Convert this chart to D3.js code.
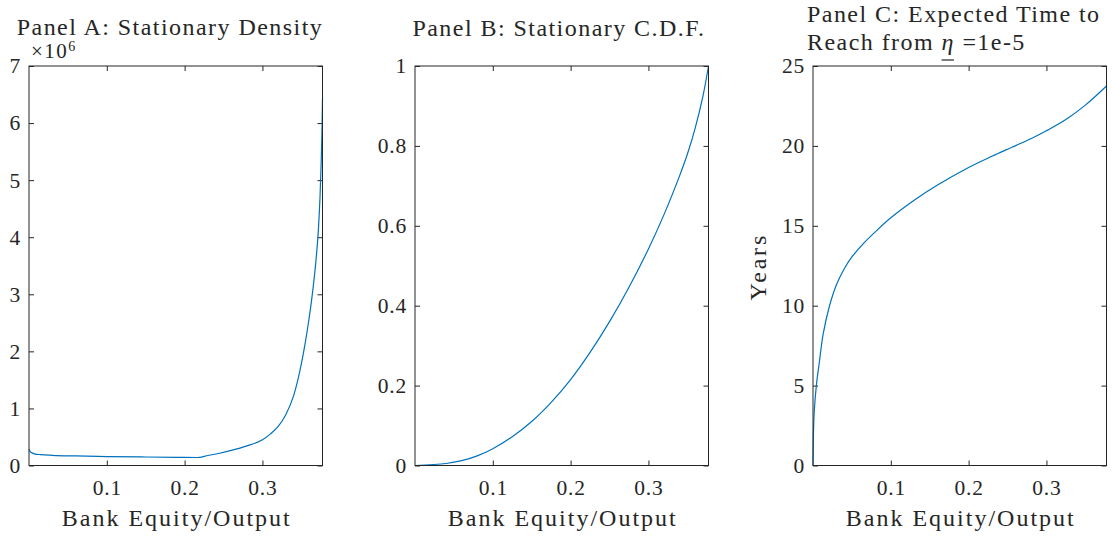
<!DOCTYPE html>
<html>
<head>
<meta charset="utf-8">
<script src="https://cdn.jsdelivr.net/npm/d3@7"></script>
<style>
	body { margin: 0; background: #fff; }
	svg { display: block; }
	text { font-family: "Liberation Serif", "Times New Roman", serif; fill: #262626; }
</style>
</head>
<body>
<svg></svg>
<script>
const svgWidth = 1112;
const svgHeight = 536;

// shared x range (bank equity / output)
const xDomain = [0.00001, 0.3772];
const xTicks = [0.1, 0.2, 0.3];

// Panel A: stationary density, in units of 1e6
const densityX = [0.00001, 0.001, 0.003, 0.007, 0.015, 0.03, 0.06, 0.1, 0.15, 0.19, 0.216,
	0.23, 0.245, 0.26, 0.28, 0.3, 0.31, 0.32, 0.33, 0.34, 0.345, 0.35, 0.355,
	0.36, 0.365, 0.369, 0.372, 0.374, 0.3755, 0.3765, 0.3772];
const densityY = [0.286, 0.255, 0.228, 0.205, 0.19, 0.179, 0.167, 0.157, 0.149, 0.144, 0.14,
	0.175, 0.215, 0.265, 0.345, 0.45, 0.55, 0.68, 0.89, 1.22, 1.47, 1.78, 2.15,
	2.58, 3.1, 3.62, 4.15, 4.7, 5.3, 5.85, 6.43];
const densityTicks = [0, 1, 2, 3, 4, 5, 6, 7];

// Panel B: stationary CDF
const cdfX = [0.00001, 0.04, 0.06, 0.08, 0.1, 0.125, 0.15, 0.175, 0.2, 0.225,
	0.25, 0.275, 0.3, 0.32, 0.34, 0.35, 0.36, 0.37, 0.3772];
const cdfY = [0, 0.005, 0.012, 0.024, 0.042, 0.072, 0.11, 0.158, 0.215, 0.283,
	0.36, 0.446, 0.542, 0.628, 0.725, 0.779, 0.844, 0.924, 1.0];
const cdfTicks = [0, 0.2, 0.4, 0.6, 0.8, 1];

// Panel C: expected time (years) to reach from eta = 1e-5
const timeX = [0.00001, 0.0005, 0.0015, 0.0043, 0.008, 0.013, 0.021, 0.03, 0.04, 0.05,
	0.065, 0.08, 0.1, 0.13, 0.16, 0.2, 0.23, 0.255, 0.28, 0.3, 0.325, 0.35, 0.3772];
const timeY = [0, 1.8, 3.3, 5.0, 6.4, 8.2, 9.95, 11.3, 12.3, 13.05,
	13.9, 14.62, 15.5, 16.6, 17.55, 18.65, 19.35, 19.9, 20.45, 20.95, 21.65, 22.55, 23.75];
const timeTicks = [0, 5, 10, 15, 20, 25];

const axisColor = "#262626";
const lineColor = "#0072BD";
const plotTop = 66;
const plotBottom = 465.5;
const panelWidth = 293.5;
const tickLen = 5;

const svg = d3.select("svg")
	.attr("width", svgWidth)
	.attr("height", svgHeight);

function drawPanel (left, xs, ys, yDomain, yTicks, yFormat, curve) {
	let right = left + panelWidth;
	let xScale = d3.scaleLinear()
		.domain(xDomain)
		.range([left, right]);
	let yScale = d3.scaleLinear()
		.domain(yDomain)
		.range([plotBottom, plotTop]);

	let styleAxis = g => {
		g.select(".domain").remove();
		g.selectAll("line").attr("stroke", axisColor);
		g.selectAll("text")
			.style("font-size", "21.5px")
			.style("letter-spacing", "0.8px");
	};

	svg.append("g")
		.attr("transform", `translate(0, ${plotBottom})`)
		.call(d3.axisBottom(xScale).tickValues(xTicks).tickSize(-tickLen).tickPadding(14).tickFormat(d3.format(".1f")))
		.call(styleAxis);
	svg.append("g")
		.attr("transform", `translate(0, ${plotTop})`)
		.call(d3.axisTop(xScale).tickValues(xTicks).tickSize(-tickLen).tickFormat(""))
		.call(styleAxis);
	svg.append("g")
		.attr("transform", `translate(${left}, 0)`)
		.call(d3.axisLeft(yScale).tickValues(yTicks).tickSize(-tickLen).tickPadding(8).tickFormat(yFormat))
		.call(styleAxis);
	svg.append("g")
		.attr("transform", `translate(${right}, 0)`)
		.call(d3.axisRight(yScale).tickValues(yTicks).tickSize(-tickLen).tickFormat(""))
		.call(styleAxis);

	let line = d3.line()
		.x(i => xScale(xs[i]))
		.y(i => yScale(ys[i]))
		.curve(curve);

	svg.append("path")
		.datum(d3.range(xs.length))
		.attr("d", line)
		.attr("fill", "none")
		.attr("stroke", lineColor)
		.attr("stroke-width", 1.2);

	svg.append("rect")
		.attr("x", left)
		.attr("y", plotTop)
		.attr("width", panelWidth)
		.attr("height", plotBottom - plotTop)
		.attr("fill", "none")
		.attr("stroke", axisColor)
		.attr("stroke-width", 1);

	// x label
	svg.append("text")
		.text("Bank Equity/Output")
		.attr("x", left + panelWidth / 2 + 1)
		.attr("y", 526)
		.style("font-size", "24px")
		.style("letter-spacing", "2px")
		.attr("text-anchor", "middle");

	return { left, right };
}

let smooth = d3.curveCatmullRom.alpha(0.5);
let pA = drawPanel(29, densityX, densityY, [0, 7], densityTicks, d3.format("d"), d3.curveMonotoneX);
let pB = drawPanel(415, cdfX, cdfY, [0, 1], cdfTicks, d => d === 0 || d === 1 ? d : d3.format(".1f")(d), smooth);
let pC = drawPanel(813, timeX, timeY, [0, 25], timeTicks, d3.format("d"), smooth);

// Titles
let titleStyle = t => t.style("font-size", "24px").style("letter-spacing", "1.45px");

svg.append("text")
	.text("Panel A: Stationary Density")
	.attr("x", 170)
	.attr("y", 35)
	.attr("text-anchor", "middle")
	.call(titleStyle);

svg.append("text")
	.text("Panel B: Stationary C.D.F.")
	.attr("x", 559)
	.attr("y", 36)
	.attr("text-anchor", "middle")
	.call(titleStyle);

svg.append("text")
	.text("Panel C: Expected Time to")
	.attr("x", 807)
	.attr("y", 22)
	.call(titleStyle);

let reach = svg.append("text")
	.attr("x", 807)
	.attr("y", 50)
	.call(titleStyle);
reach.append("tspan").text("Reach from ");
reach.append("tspan").text("η").attr("font-style", "italic");
reach.append("tspan").text(" =1e-5");

// underline under eta
let node = reach.node();
let etaIndex = "Reach from ".length;
let etaStart = node.getStartPositionOfChar(etaIndex).x;
let etaEnd = node.getEndPositionOfChar(etaIndex).x;
svg.append("line")
	.attr("x1", etaStart)
	.attr("x2", etaEnd - 1)
	.attr("y1", 60)
	.attr("y2", 60)
	.attr("stroke", axisColor)
	.attr("stroke-width", 1.2);

// x10^6 multiplier for panel A
let mult = svg.append("text")
	.attr("x", 31)
	.attr("y", 58)
	.style("font-size", "21px")
	.style("letter-spacing", "1.5px");
mult.append("tspan").text("×10");
mult.append("tspan").text("6").style("font-size", "14px").attr("dy", "-7");

// Panel C y label
svg.append("text")
	.text("Years")
	.attr("transform", "rotate(-90)")
	.attr("x", -(plotTop + plotBottom) / 2 - 1)
	.attr("y", 766)
	.style("font-size", "24px")
	.style("letter-spacing", "2.8px")
	.attr("text-anchor", "middle");
</script>
</body>
</html>
